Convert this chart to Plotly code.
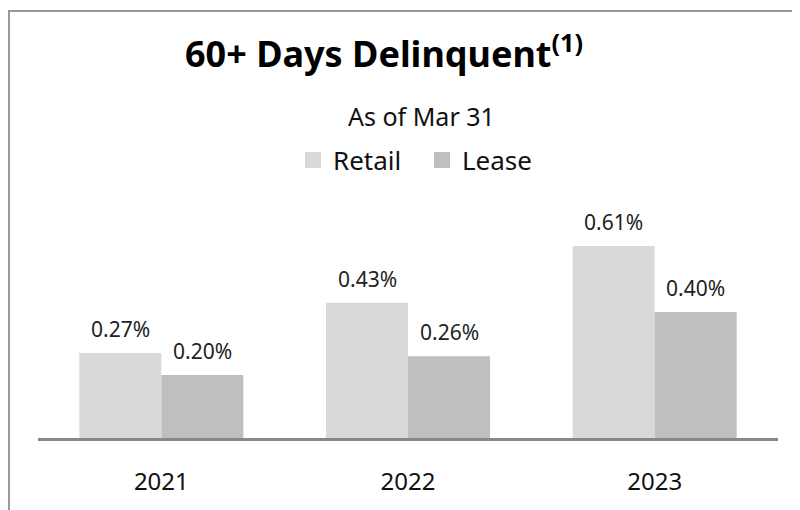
import plotly.graph_objects as go

years = ["2021", "2022", "2023"]
retail = [0.27, 0.43, 0.61]
lease = [0.20, 0.26, 0.40]
retail_labels = ["0.27%", "0.43%", "0.61%"]
lease_labels = ["0.20%", "0.26%", "0.40%"]

FONT = "Noto Sans"
OFF = 8  # page body margin offset
W, H = 800 - OFF, 510 - OFF
L, R, T, B = 38 - OFF, 22, 180 - OFF, 72
pw = W - L - R
ph = H - T - B

def py(ypix):
    return (H - B - (ypix - OFF)) / ph

def px(xpix):
    return ((xpix - OFF) - L) / pw

RETAIL_C = "#d9d9d9"
LEASE_C = "#bfbfbf"

fig = go.Figure()
fig.add_trace(go.Bar(name="Retail", x=years, y=retail, showlegend=False,
                     marker=dict(color=RETAIL_C, line=dict(width=0))))
fig.add_trace(go.Bar(name="Lease", x=years, y=lease, showlegend=False,
                     marker=dict(color=LEASE_C, line=dict(width=0))))
# legend entries with larger square swatches
fig.add_trace(go.Scatter(name="Retail", x=[None], y=[None], mode="markers",
                         marker=dict(symbol="square", size=16, color=RETAIL_C)))
fig.add_trace(go.Scatter(name="Lease", x=[None], y=[None], mode="markers",
                         marker=dict(symbol="square", size=16, color=LEASE_C)))

annotations = []
for i, yr in enumerate(years):
    annotations.append(dict(x=i, y=retail[i], xref="x", yref="y", text=retail_labels[i],
                            showarrow=False, xshift=-41, yshift=8, yanchor="bottom",
                            font=dict(size=21, color="#222", family=FONT)))
    annotations.append(dict(x=i, y=lease[i], xref="x", yref="y", text=lease_labels[i],
                            showarrow=False, xshift=41, yshift=8, yanchor="bottom",
                            font=dict(size=21, color="#222", family=FONT)))

annotations.append(dict(x=px(384), y=py(51), xref="paper", yref="paper",
                        text="<b>60+ Days Delinquent<sup>(1)</sup></b>", showarrow=False,
                        xanchor="center", yanchor="middle",
                        font=dict(size=36, color="#000", family=FONT)))
annotations.append(dict(x=px(421), y=py(116), xref="paper", yref="paper",
                        text="As of Mar 31", showarrow=False,
                        xanchor="center", yanchor="middle",
                        font=dict(size=25, color="#111", family=FONT)))

fig.update_layout(
    width=W, height=H,
    margin=dict(l=L, r=R, t=T, b=B),
    paper_bgcolor="white", plot_bgcolor="white",
    barmode="group", bargap=0.335, bargroupgap=0,
    showlegend=True,
    legend=dict(orientation="h", x=px(293), xanchor="left", y=py(160), yanchor="middle",
                font=dict(size=26, color="#111", family=FONT), entrywidth=84,
                traceorder="normal", bgcolor="rgba(0,0,0,0)"),
    annotations=annotations,
    shapes=[dict(type="rect", xref="paper", yref="paper",
                 x0=(1 - L) / pw, x1=1.2, y0=-0.5, y1=(H - B - 3) / ph,
                 line=dict(color="#999999", width=2), fillcolor="rgba(0,0,0,0)", layer="below")],
    xaxis=dict(type="category", showline=True, linecolor="#888888", linewidth=3, ticks="",
               tickfont=dict(size=24, color="#111", family=FONT), showgrid=False,
               ticklabelstandoff=20, range=[-0.5, 2.5]),
    yaxis=dict(range=[0, ph / 314.8], visible=False, showgrid=False, zeroline=False),
    font=dict(family=FONT),
)

fig.write_html("out.html")
